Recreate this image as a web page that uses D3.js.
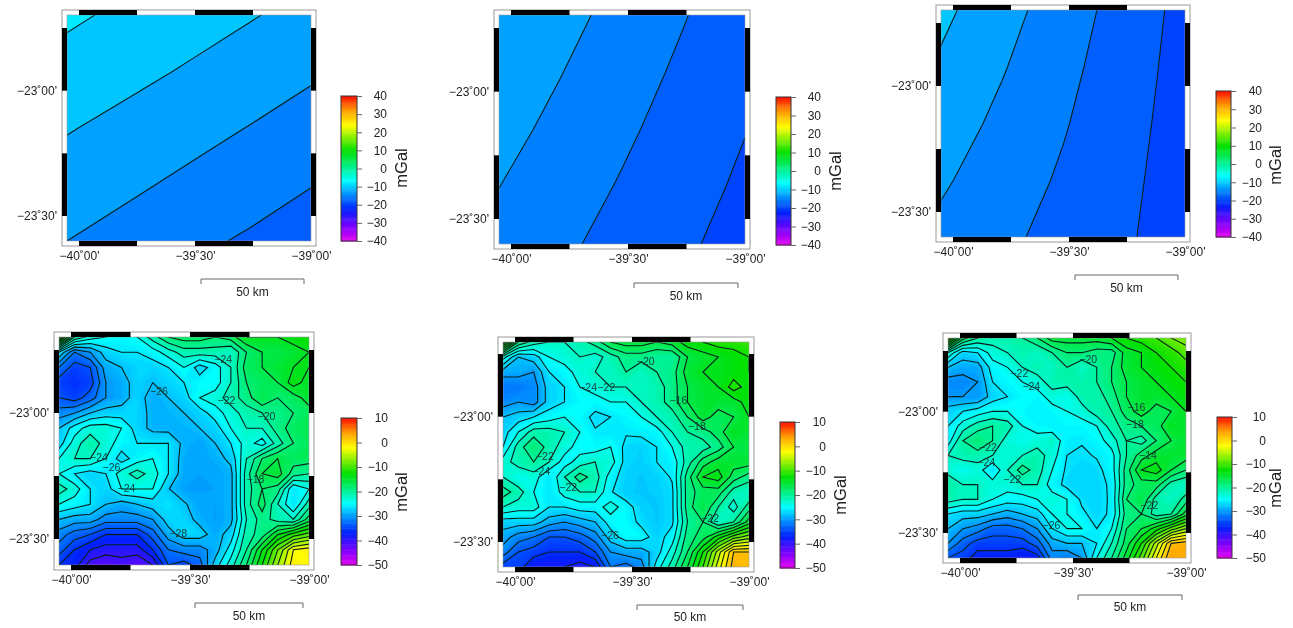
<!DOCTYPE html>
<html>
<head>
<meta charset="utf-8">
<script src="https://cdn.jsdelivr.net/npm/d3@7"></script>
<style>
    html, body { margin: 0; padding: 0; background: #fff; }
    svg { display: block; font-family: "Liberation Sans", Arial, sans-serif; filter: blur(0.35px); }
    .axis text { font-size: 12px; fill: #222; }
    .contour { fill: none; stroke: #06201c; stroke-width: 1.1; }
    .clabel { font-size: 10.5px; fill: #12403a; text-anchor: middle; dominant-baseline: middle; }
</style>
</head>
<body>
<svg width="1293" height="628"></svg>
<script>
// gravity grids, mGal, north row first
var gridA = [
    [-8.58, -9.5, -10.42, -11.33, -12.25],
    [-9.92, -10.83, -11.75, -12.67, -13.67],
    [-11.33, -12.25, -13.17, -14.08, -15.0],
    [-12.67, -13.58, -14.5, -15.42, -16.42],
    [-14.0, -14.92, -15.92, -16.83, -17.75]
];
var gridB = [
    [-11.62, -13.21, -14.79, -16.37, -17.97],
    [-12.42, -13.93, -15.44, -16.94, -18.45],
    [-13.2, -14.64, -16.07, -17.5, -18.93],
    [-13.98, -15.35, -16.7, -18.07, -19.42],
    [-14.75, -16.05, -17.33, -18.63, -19.92]
];
var gridC = [
    [-10.92, -13.08, -15.25, -17.5, -19.75],
    [-11.85, -13.82, -15.78, -17.87, -19.87],
    [-12.78, -14.55, -16.3, -18.17, -20.0],
    [-13.68, -15.25, -16.82, -18.46, -20.08],
    [-14.58, -15.96, -17.33, -18.71, -20.08]
];
var gridD = [
    [-6, -20, -23, -24, -25, -24, -21, -18, -17, -17, -18, -17, -14, -14, -14, -13, -12],
    [-26, -32, -30, -27, -26, -26, -25, -23, -21, -21, -21, -22, -18, -16, -16, -15, -14],
    [-32, -35, -34, -29, -28, -27, -27, -26, -24, -27, -25, -22, -17, -16, -15, -14, -14],
    [-35, -36, -35, -30, -29, -27, -28, -27, -26, -25, -25, -22, -18, -17, -16, -13, -15],
    [-34, -35, -33, -30, -29, -27, -29, -28, -27, -24, -23, -21, -19, -16, -18, -17, -15],
    [-31, -30, -28, -27, -27, -27, -28.6, -28.6, -28, -27, -25, -23, -21, -20, -19, -18, -17],
    [-28, -25, -23, -23, -24, -27, -28.6, -28.7, -28.6, -28, -27, -24, -22, -22, -19, -17, -17],
    [-27, -23, -20.5, -23, -25, -26, -26, -26, -28.6, -29.5, -28, -26, -23, -25, -21, -18, -17],
    [-24, -22, -22, -24, -27, -25, -24, -26, -29, -29.4, -28.8, -27.5, -22, -18, -16, -17, -17],
    [-24, -26, -27, -26, -23, -21, -23, -26, -29.2, -29.5, -29.5, -28.6, -21, -16, -15, -19, -20],
    [-21, -23, -26, -27, -24, -24, -24, -27.9, -29.5, -29.6, -29.5, -28.6, -21, -18, -19, -26, -24],
    [-24, -25, -26, -28, -29, -28, -27, -26, -27.7, -29.3, -29.5, -28.6, -21, -17, -22, -26, -21],
    [-28, -29, -29, -31, -31, -31, -30, -27, -27, -28.7, -29.6, -28.6, -22, -19, -21, -22, -17],
    [-31, -33, -34, -36, -36, -36, -33, -29, -27, -27, -29, -27, -21, -19, -14, -11, -9],
    [-33, -36, -38, -39, -39, -39, -36, -32, -31, -31, -29, -25, -20, -14, -8, -2, -1],
    [-36, -37, -41, -42, -41, -42, -40, -34, -35, -33, -27, -23, -18, -12, -6, -1, -2]
];
var gridE = [
    [-6, -18, -21, -22, -22, -21, -19, -16, -15, -15, -16, -15, -13, -12, -11, -11, -10],
    [-23, -28, -27, -24, -23, -22, -23, -21, -19, -19, -20, -20, -16, -15, -14, -13, -12],
    [-29, -29, -30, -26, -25, -23, -22, -22, -20, -22, -20, -19, -15, -14, -14, -13, -12],
    [-32, -32, -31, -27, -26, -24, -23, -22, -22, -22, -21, -19, -16, -15, -14, -11, -13],
    [-31, -30, -31, -27, -26, -25, -25, -24, -24, -22, -21, -19, -16, -15, -15, -15, -13],
    [-28, -27, -26, -25, -24, -25, -26.6, -26, -25, -24, -22, -21, -18, -15, -17, -16, -14],
    [-27, -24, -21, -21, -22, -24, -25.8, -26, -25.8, -25.5, -25, -22, -20, -19, -17, -14, -15],
    [-26, -21, -18, -21, -23, -25, -25, -24, -26.6, -27, -26, -24, -21, -21, -19, -16, -16],
    [-23, -21, -20, -22, -25, -23, -22, -23, -26.8, -27.2, -26, -25.4, -21, -17, -15, -15, -15],
    [-22, -24, -23, -26, -22, -19, -21, -25, -27.2, -27.6, -27, -25.8, -19, -14, -13, -17, -19],
    [-19, -21, -24, -26, -23, -22, -22, -25.8, -27.4, -27.6, -27.4, -26.4, -19, -17, -17, -21, -22],
    [-22, -23, -23, -26, -26, -25, -25, -23, -25, -27.2, -27.6, -26.4, -19, -16, -20, -23, -19],
    [-27, -27, -27, -29, -30, -29, -28, -25, -25, -26.5, -27.6, -26.4, -20, -18, -22, -20, -15],
    [-29, -31, -32, -34, -34, -33, -31, -27, -25, -25, -27, -25, -19, -17, -13, -9, -7],
    [-31, -34, -35, -36, -36, -36, -34, -30, -29, -29, -27, -23, -18, -12, -5, 2, 2],
    [-35, -35, -38, -38, -38, -39, -38, -32, -33, -31, -25, -21, -16, -10, -3, 3, 2]
];
var gridF = [
    [-6, -17, -20, -21, -21, -20, -18, -15, -15, -15, -15, -14, -12, -11, -10, -8, -7],
    [-22, -27, -26, -23, -22, -21, -22, -20, -18, -18, -19, -19, -15, -14, -12, -11, -9],
    [-28, -29, -29, -25, -24, -22, -21, -22, -20, -22, -20, -18, -15, -14, -13, -12, -11],
    [-31, -31, -30, -26, -25, -24, -23, -21, -21, -21, -20, -18, -16, -15, -14, -13, -12],
    [-30, -30, -30, -27, -26, -25, -25, -23, -24, -21, -21, -19, -16, -15, -15, -14, -13],
    [-27, -26, -25, -24, -24, -25, -25.6, -25, -24, -23, -21, -20, -17, -15, -17, -16, -14],
    [-26, -23, -21, -20, -21, -24, -25, -25.5, -25, -25, -24, -21, -19, -18, -17, -14, -15],
    [-25, -20, -18, -20, -23, -24, -23, -22, -25.6, -25.8, -25, -23, -20, -21, -18, -16, -15],
    [-22, -21, -21, -22, -23, -22, -21, -23, -26, -26.4, -25.8, -24.8, -20, -17, -15, -15, -15],
    [-23, -24, -23, -26, -22, -19, -21, -24, -26.4, -26.8, -26.6, -25, -19, -14, -13, -16, -18],
    [-20, -22, -22, -23, -23, -22, -22, -25, -26.6, -27, -26.8, -25.6, -19, -17, -17, -21, -22],
    [-21, -22, -22, -24, -25, -25, -24, -23, -24, -26.4, -27, -25.6, -18, -16, -21, -22, -19],
    [-26, -27, -27, -28, -29, -28, -27, -24, -24, -25.6, -26.8, -25.6, -19, -18, -21, -20, -15],
    [-28, -30, -31, -33, -33, -32, -30, -26, -24, -24, -26, -24, -18, -16, -13, -9, -6],
    [-30, -33, -35, -35, -35, -35, -33, -29, -28, -28, -26, -22, -17, -12, -5, 2, 3],
    [-34, -35, -37, -37, -37, -38, -37, -31, -32, -30, -24, -20, -15, -9, -2, 4, 3]
];

var labelsD = [["−24", .657, .10], ["−26", .40, .24], ["−22", .67, .28], ["−20", .83, .35], ["−24", .16, .53],
    ["−26", .21, .575], ["−18", .786, .627], ["−24", .27, .666], ["−28", .477, .864]];
var labelsE = [["−20", .58, .09], ["−24", .346, .207], ["−22", .42, .207], ["−16", .713, .263], ["−18", .788, .377],
    ["−22", .17, .51], ["−24", .156, .58], ["−22", .265, .65], ["−22", .842, .786], ["−26", .435, .864]];
var labelsF = [["−20", .589, .099], ["−22", .30, .165], ["−24", .35, .225], ["−16", .792, .319], ["−18", .785, .395],
    ["−22", .168, .50], ["−24", .161, .569], ["−22", .27, .648], ["−14", .84, .536], ["−22", .846, .766], ["−26", .435, .857]];

var lonTicks = [-40, -39.5, -39];
var lonTickLabels = ["−40˚00'", "−39˚30'", "−39˚00'"];
var latTicks = [-23, -23.5];
var latTickLabels = ["−23˚00'", "−23˚30'"];
var lonBands = [[-40, -39.75], [-39.5, -39.25]];
var latBands = [[-22.75, -23], [-23.25, -23.5]];

var topLines = [-19, -16.5, -14, -11.5, -9];
var topBands = [-21, -19, -16.5, -14, -11.5, -9];
var bottomLines = d3.range(-44, 6, 2);
var bottomBands = d3.range(-50, 12, 0.5);

var rainbowStops = [0, 0.1, 0.22, 0.34, 0.42, 0.625, 0.8, 0.9, 1];
var rainbowColors = ["#e800f0", "#8000ff", "#0020ff", "#00a0ff", "#00ffff", "#00e000", "#ffff00", "#ffa000", "#ff1000"];

// layout of each panel in page pixels
var panels = [
    {grid: gridA, range: [-40, 40], box: [67, 311, 15, 241], lon0: 79, latY: [28, 216], bar: [341, 357, 96, 241], barLabel: 30, unit: [403, 168], scale: [201, 304, 279, 293], kind: "top", labels: []},
    {grid: gridB, range: [-40, 40], box: [499, 745, 15, 244], lon0: 511, latY: [28, 219], bar: [776, 791, 97, 245], barLabel: 30, unit: [837, 171], scale: [634, 738, 283, 297], kind: "top", labels: []},
    {grid: gridC, range: [-40, 40], box: [941, 1185, 10, 237], lon0: 953, latY: [23, 212], bar: [1216, 1231, 91, 237], barLabel: 31, unit: [1277, 165], scale: [1075, 1178, 275, 289], kind: "top", labels: []},
    {grid: gridD, range: [-50, 10], box: [59, 309, 337, 565], lon0: 71, latY: [350, 539], bar: [341, 357, 418, 565], barLabel: 31, unit: [403, 492], scale: [195, 303, 603, 617], kind: "bottom", labels: labelsD},
    {grid: gridE, range: [-50, 10], box: [503, 749, 342, 567], lon0: 515, latY: [354, 542], bar: [780, 795, 422, 568], barLabel: 31, unit: [842, 495], scale: [637, 743, 605, 618], kind: "bottom", labels: labelsE},
    {grid: gridF, range: [-50, 10], box: [948, 1186, 338, 558], lon0: 960, latY: [351, 533], bar: [1217, 1232, 417, 558], barLabel: 34, unit: [1277, 488], scale: [1078, 1182, 595, 608], kind: "bottom", labels: labelsF}
];

var svg = d3.select("svg");

function rainbow(range) {
    var span = range[1] - range[0];
    return d3.scaleLinear()
        .domain(rainbowStops.map(function(f) { return range[0] + f * span; }))
        .range(rainbowColors)
        .clamp(true);
}

function drawMap(g, p, id) {
    var box = p.box,
        color = rainbow(p.range),
        rows = p.grid.length,
        cols = p.grid[0].length,
        values = d3.merge(p.grid);

    // d3.contours puts node i at i + 0.5
    var gx = d3.scaleLinear().domain([0.5, cols - 0.5]).range([box[0], box[1]]),
        gy = d3.scaleLinear().domain([0.5, rows - 0.5]).range([box[2], box[3]]);

    var path = d3.geoPath(d3.geoTransform({
        point: function(x, y) { this.stream.point(gx(x), gy(y)); }
    }));

    var contours = d3.contours().size([cols, rows]);
    var isTop = p.kind === "top";
    var bands = isTop ? topBands : bottomBands,
        lines = isTop ? topLines : bottomLines,
        halfStep = isTop ? 1.25 : 0.25;

    svg.append("clipPath").attr("id", "clip" + id)
        .append("rect")
        .attr("x", box[0]).attr("y", box[2])
        .attr("width", box[1] - box[0]).attr("height", box[3] - box[2]);

    var plot = g.append("g").attr("clip-path", "url(#clip" + id + ")");

    plot.selectAll("path.band")
        .data(contours.thresholds(bands)(values))
        .enter().append("path")
        .attr("class", "band")
        .attr("d", path)
        .attr("fill", function(d) { return color(d.value + halfStep); });

    plot.selectAll("path.contour")
        .data(contours.thresholds(lines)(values))
        .enter().append("path")
        .attr("class", "contour")
        .attr("d", path);

    plot.selectAll("text.clabel")
        .data(p.labels)
        .enter().append("text")
        .attr("class", "clabel")
        .attr("x", function(d) { return box[0] + d[1] * (box[1] - box[0]); })
        .attr("y", function(d) { return box[2] + d[2] * (box[3] - box[2]); })
        .text(function(d) { return d[0]; });
}

function drawFrame(g, p) {
    var box = p.box,
        band = 5,
        frameColor = "#999";

    var lon = d3.scaleLinear().domain([-40, -39]).range([p.lon0, box[1]]),
        lat = d3.scaleLinear().domain([-22.75, -23.5]).range(p.latY);

    g.append("rect")
        .attr("x", box[0] - band).attr("y", box[2] - band)
        .attr("width", box[1] - box[0] + 2 * band).attr("height", box[3] - box[2] + 2 * band)
        .attr("fill", "none").attr("stroke", frameColor);

    g.append("rect")
        .attr("x", box[0]).attr("y", box[2])
        .attr("width", box[1] - box[0]).attr("height", box[3] - box[2])
        .attr("fill", "none").attr("stroke", frameColor).attr("stroke-width", 0.6);

    [box[2] - band, box[3]].forEach(function(y) {
        g.selectAll(null).data(lonBands).enter().append("rect")
            .attr("x", function(d) { return lon(d[0]); })
            .attr("y", y)
            .attr("width", function(d) { return lon(d[1]) - lon(d[0]); })
            .attr("height", band)
            .attr("fill", "#000");
    });
    [box[0] - band, box[1]].forEach(function(x) {
        g.selectAll(null).data(latBands).enter().append("rect")
            .attr("x", x)
            .attr("y", function(d) { return lat(d[0]); })
            .attr("width", band)
            .attr("height", function(d) { return lat(d[1]) - lat(d[0]); })
            .attr("fill", "#000");
    });

    var xAxis = g.append("g")
        .attr("class", "axis")
        .attr("transform", "translate(0," + (box[3] + band) + ")")
        .call(d3.axisBottom(lon).tickValues(lonTicks).tickSize(0).tickPadding(5)
            .tickFormat(function(d, i) { return lonTickLabels[i]; }));
    xAxis.select(".domain").remove();

    var yAxis = g.append("g")
        .attr("class", "axis")
        .attr("transform", "translate(" + box[0] + ",0)")
        .call(d3.axisLeft(lat).tickValues(latTicks).tickSize(0).tickPadding(10)
            .tickFormat(function(d, i) { return latTickLabels[i]; }));
    yAxis.select(".domain").remove();
}

function drawColorbar(g, p) {
    var bar = p.bar,
        color = rainbow(p.range),
        y = d3.scaleLinear().domain(p.range).range([bar[3], bar[2]]);

    g.selectAll("rect.step")
        .data(d3.range(p.range[0], p.range[1], 0.5))
        .enter().append("rect")
        .attr("class", "step")
        .attr("x", bar[0])
        .attr("width", bar[1] - bar[0])
        .attr("y", function(d) { return y(d + 0.5); })
        .attr("height", function(d) { return y(d) - y(d + 0.5) + 0.5; })
        .attr("fill", function(d) { return color(d + 0.25); });

    g.append("rect")
        .attr("x", bar[0]).attr("y", bar[2])
        .attr("width", bar[1] - bar[0]).attr("height", bar[3] - bar[2])
        .attr("fill", "none").attr("stroke", "#333");

    var axis = g.append("g")
        .attr("class", "axis")
        .attr("transform", "translate(" + bar[1] + ",0)")
        .call(d3.axisRight(y).ticks(8).tickSize(5).tickPadding(4));
    axis.select(".domain").remove();
    axis.selectAll("line").attr("stroke", "#666");
    axis.selectAll("text").attr("text-anchor", "end").attr("x", p.barLabel);

    g.append("text")
        .attr("transform", "translate(" + p.unit[0] + "," + p.unit[1] + ") rotate(-90)")
        .attr("text-anchor", "middle")
        .attr("dominant-baseline", "middle")
        .attr("font-size", 16.5)
        .attr("fill", "#222")
        .text("mGal");
}

function drawScaleBar(g, p) {
    var s = p.scale;
    g.append("path")
        .attr("d", "M" + s[0] + "," + (s[2] + 5) + "V" + s[2] + "H" + s[1] + "V" + (s[2] + 5))
        .attr("fill", "none")
        .attr("stroke", "#666");
    g.append("text")
        .attr("x", (s[0] + s[1]) / 2)
        .attr("y", s[3])
        .attr("text-anchor", "middle")
        .attr("dominant-baseline", "middle")
        .attr("font-size", 12)
        .attr("fill", "#222")
        .text("50 km");
}

panels.forEach(function(p, i) {
    var g = svg.append("g").attr("class", "panel");
    drawMap(g, p, i);
    drawFrame(g, p);
    drawColorbar(g, p);
    drawScaleBar(g, p);
});
</script>
</body>
</html>
